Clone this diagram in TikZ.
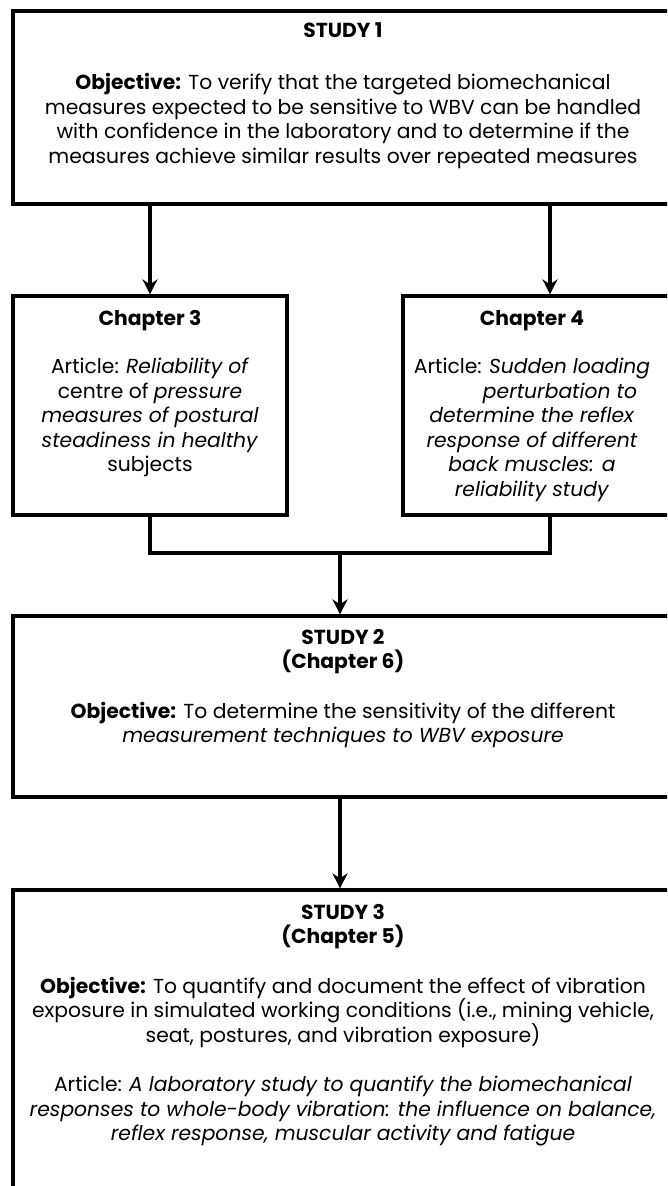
\documentclass[tikz,border=0pt]{standalone}
\usepackage{fontspec}
\setmainfont{Poppins}
\usetikzlibrary{positioning, arrows.meta}

\begin{document}
\begin{tikzpicture}[
    x=1pt, y=-1pt,
    % Clean styles
    stagebox/.style={
        rectangle,
        draw=black,
        line width=3.2pt,
        fill=white
    },
    boxtext/.style={
        font=\fontsize{20.3}{24.5}\selectfont,
        align=center,
        inner sep=0pt,
        anchor=north
    },
    arrow/.style={
        -{Stealth[length=15pt, width=15pt]},
        line width=3.2pt,
        black
    },
    link/.style={
        line width=3.2pt,
        black
    }
]
\useasboundingbox (0,0) rectangle (667,1186);
\clip (0,0) rectangle (667,1186);

% === Top: Study 1 ===
\node[stagebox, minimum width=660pt, minimum height=193pt] (study1) at (343,107.5) {};
\node[boxtext] (study1txt) at (343,22) {
    \textbf{STUDY 1}\\[28pt]
    \textbf{Objective:} To verify that the targeted biomechanical\\
    measures expected to be sensitive to WBV can be handled\\
    with confidence in the laboratory and to determine if the\\
    measures achieve similar results over repeated measures
};

% === Middle: Chapters 3 and 4 ===
\node[stagebox, minimum width=274pt, minimum height=219pt] (ch3) at (150,405.5) {};
\node[boxtext] (ch3txt) at (150,310) {
    \textbf{Chapter 3}\\[24pt]
    Article: \textit{Reliability of}\\
    centre of \textit{pressure}\\
    \textit{measures of postural}\\
    \textit{steadiness in healthy}\\
    subjects
};
\node[stagebox, minimum width=294pt, minimum height=219pt] (ch4) at (550,405.5) {};
\node[boxtext] (ch4txt) at (532,310) {
    \textbf{Chapter 4}\\[24pt]
    Article: \textit{Sudden loading}\\
    \hspace*{56pt}\textit{perturbation to}\\
    \textit{determine the reflex}\\
    \textit{response of different}\\
    \textit{back muscles: a}\\
    \textit{reliability study}
};

% === Study 2 ===
\node[stagebox, minimum width=660pt, minimum height=181pt] (study2) at (343,706.5) {};
\node[boxtext] (study2txt) at (343,629) {
    \textbf{STUDY 2}\\
    \textbf{(Chapter 6)}\\[25pt]
    \textbf{Objective:} To determine the sensitivity of the different\\
    \textit{measurement techniques to WBV exposure}
};

% === Bottom: Study 3 ===
\node[stagebox, minimum width=660pt, minimum height=320pt] (study3) at (343,1050) {};
\node[boxtext] (study3txt) at (343,904) {
    \textbf{STUDY 3}\\
    \textbf{(Chapter 5)}\\[25pt]
    \textbf{Objective:} To quantify and document the effect of vibration\\
    exposure in simulated working conditions (i.e., mining vehicle,\\
    seat, postures, and vibration exposure)\\[25pt]
    Article: \textit{A laboratory study to quantify the biomechanical}\\
    \textit{responses to whole-body vibration: the influence on balance,}\\
    \textit{reflex response, muscular activity and fatigue}
};

% === Arrows ===
\coordinate (join) at (340,553);
\draw[arrow] (study1.south -| ch3.north) -- (ch3.north);
\draw[arrow] (study1.south -| ch4.north) -- (ch4.north);
\draw[link] (ch3.south) |- (join) -| (ch4.south);
\draw[arrow] (join) -- (join |- study2.north);
\draw[arrow] (study2.south -| join) -- (study3.north -| join);

\end{tikzpicture}
\end{document}
